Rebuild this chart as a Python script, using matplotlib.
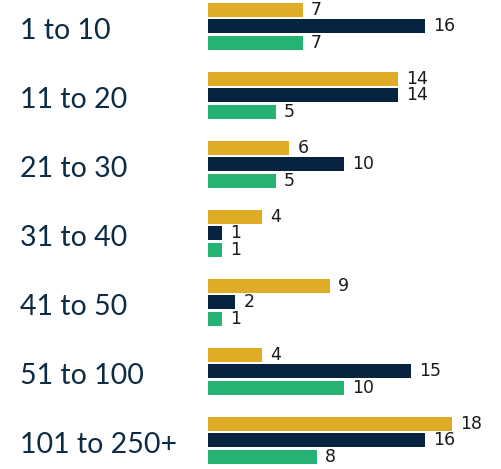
import numpy as np
import matplotlib
matplotlib.use("Agg")
import matplotlib.pyplot as plt
from matplotlib.transforms import blended_transform_factory

categories = ["1 to 10", "11 to 20", "21 to 30", "31 to 40", "41 to 50", "51 to 100", "101 to 250+"]
gold_vals = [7, 14, 6, 4, 9, 4, 18]
navy_vals = [16, 14, 10, 1, 2, 15, 16]
green_vals = [7, 5, 5, 1, 1, 10, 8]

GOLD = "#E0AC26"
NAVY = "#08233F"
GREEN = "#25B273"
TEXT = "#0D2B45"

fig = plt.figure(figsize=(5.01, 4.69), dpi=100)
ax = fig.add_axes([208 / 501, 0, 1 - 208 / 501, 1])

y = np.arange(len(categories))
off = 0.239
h = 0.203
for vals, col, d in [(gold_vals, GOLD, -off), (navy_vals, NAVY, 0), (green_vals, GREEN, off)]:
    ax.barh(y + d, vals, height=h, color=col)
    for yy, v in zip(y + d, vals):
        # value label just right of the bar
        ax.text(v + 0.6, yy, str(v), va="center", ha="left",
                fontsize=12.5, color="#1a1a1a", family="DejaVu Sans")

ax.set_xlim(0, 21.6)
ax.set_ylim(6.42, -0.377)
ax.axis("off")

tr = blended_transform_factory(fig.transFigure, ax.transData)
for yy, c in zip(y, categories):
    ax.text(20 / 501, yy + 0.07, c, transform=tr, va="center", ha="left",
            fontsize=20.5, color=TEXT, family="Lato")

fig.savefig("out.png", dpi=100)
